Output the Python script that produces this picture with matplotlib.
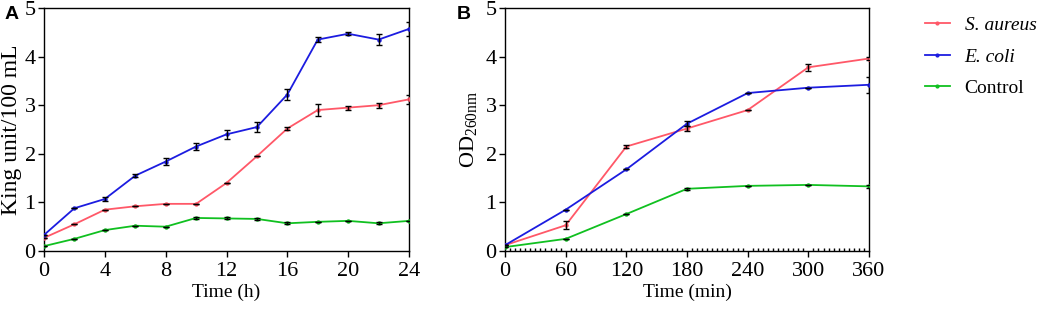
import matplotlib
matplotlib.use("Agg")
import matplotlib.pyplot as plt
from matplotlib.ticker import MultipleLocator
from matplotlib.lines import Line2D

plt.rcParams['font.family'] = ['Liberation Serif', 'DejaVu Serif']
plt.rcParams['mathtext.fontset'] = 'custom'
plt.rcParams['mathtext.rm'] = 'Liberation Serif'

# Panel A data
time_h = [0, 2, 4, 6, 8, 10, 12, 14, 16, 18, 20, 22, 24]
a_saureus = [0.27, 0.55, 0.85, 0.92, 0.97, 0.97, 1.40, 1.95, 2.52, 2.90, 2.95, 3.00, 3.12]
a_saureus_err = [0, 0, 0, 0, 0, 0, 0, 0, 0.03, 0.12, 0.04, 0.05, 0.10]
a_ecoli = [0.33, 0.88, 1.07, 1.55, 1.84, 2.15, 2.40, 2.55, 3.22, 4.35, 4.47, 4.35, 4.57]
a_ecoli_err = [0, 0, 0.05, 0.03, 0.08, 0.08, 0.09, 0.10, 0.12, 0.05, 0.03, 0.12, 0.15]
a_control = [0.10, 0.25, 0.43, 0.52, 0.50, 0.68, 0.67, 0.66, 0.57, 0.60, 0.62, 0.57, 0.62]
a_control_err = [0, 0, 0, 0, 0, 0.02, 0.02, 0.02, 0.02, 0, 0, 0.02, 0]

# Panel B data
time_min = [0, 60, 120, 180, 240, 300, 360]
b_saureus = [0.12, 0.53, 2.15, 2.52, 2.90, 3.78, 3.96]
b_saureus_err = [0, 0.08, 0.03, 0.05, 0, 0.07, 0.03]
b_ecoli = [0.12, 0.85, 1.68, 2.62, 3.25, 3.36, 3.42]
b_ecoli_err = [0, 0, 0, 0.05, 0, 0, 0.16]
b_control = [0.08, 0.25, 0.76, 1.28, 1.34, 1.36, 1.33]
b_control_err = [0, 0, 0, 0.02, 0, 0, 0.03]

labels = ['S. aureus', 'E. coli', 'Control']
colors = ['#ff5868', '#1c1ce0', '#10c020']

fig = plt.figure(figsize=(10.45, 3.16), dpi=100)
axA = fig.add_axes([0.0421, 0.2057, 0.3493, 0.769])
axB = fig.add_axes([0.4833, 0.2057, 0.3483, 0.769])

def draw(ax, x, series):
    for (y, e), c in zip(series, colors):
        ax.plot(x, y, color=c, lw=1.3, marker='o', ms=2.2, zorder=3)
        ax.errorbar(x, y, yerr=e, fmt='none', ecolor='black', elinewidth=1.0,
                    capsize=2.5, capthick=1.0, zorder=4)
    ax.set_ylim(0, 5)
    ax.yaxis.set_major_locator(MultipleLocator(1))
    ax.tick_params(axis='both', direction='out', length=4, width=1, labelsize=16, pad=2)
    ax.tick_params(axis='x', pad=4)
    for s in ax.spines.values():
        s.set_linewidth(1.0)

draw(axA, time_h, [(a_saureus, a_saureus_err), (a_ecoli, a_ecoli_err), (a_control, a_control_err)])
axA.set_xlim(0, 24)
axA.xaxis.set_major_locator(MultipleLocator(4))
axA.set_xlabel('Time (h)', fontsize=14, labelpad=2)
axA.set_ylabel('King unit/100 mL', fontsize=17, labelpad=2)

draw(axB, time_min, [(b_saureus, b_saureus_err), (b_ecoli, b_ecoli_err), (b_control, b_control_err)])
axB.set_xlim(0, 360)
axB.xaxis.set_major_locator(MultipleLocator(60))
axB.xaxis.set_minor_locator(MultipleLocator(5))
axB.tick_params(axis='x', which='minor', direction='in', length=2.5, width=1)
axB.set_xlabel('Time (min)', fontsize=14, labelpad=2)
axB.set_ylabel(r'OD$_{\mathregular{260nm}}$', fontsize=16, labelpad=4)

fig.text(0.004, 0.953, 'A', fontsize=14, fontweight='bold', family='Liberation Sans', va='center')
fig.text(0.437, 0.953, 'B', fontsize=14, fontweight='bold', family='Liberation Sans', va='center')

handles = [Line2D([0], [0], color=c, lw=1.3, marker='o', ms=2.0) for c in colors]
leg = fig.legend(handles, labels, loc='upper left', bbox_to_anchor=(0.885, 0.948),
                 frameon=False, fontsize=14, handlelength=1.3, handletextpad=0.75,
                 labelspacing=0.72, borderpad=0, borderaxespad=0)
for t in leg.get_texts()[:2]:
    t.set_style('italic')

fig.savefig('out.png', dpi=100)
